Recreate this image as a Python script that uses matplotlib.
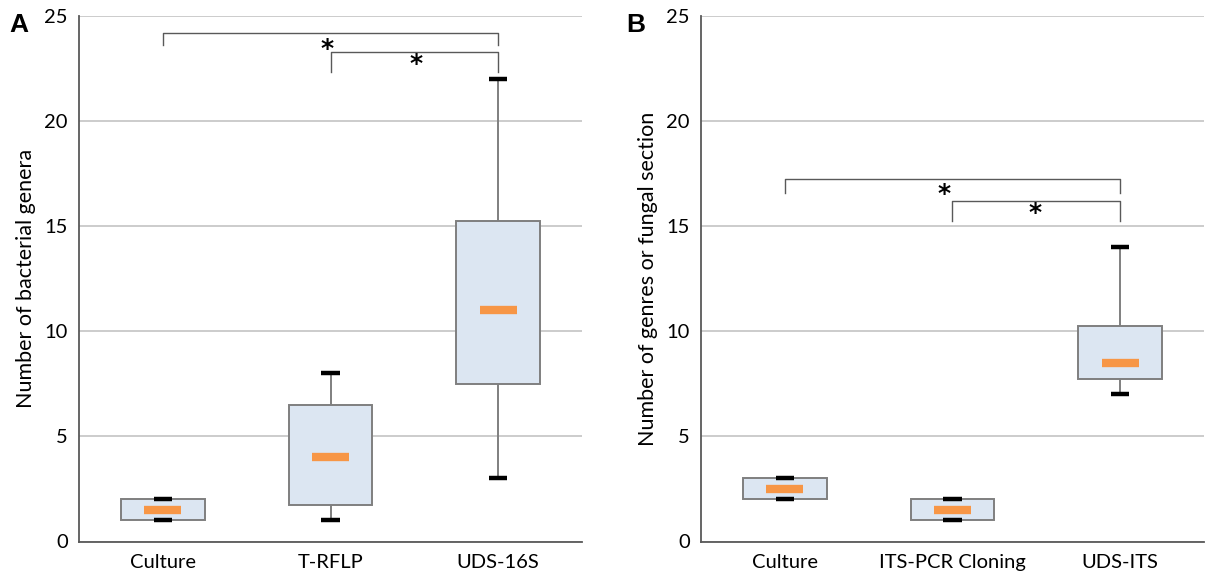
import numpy as np
import matplotlib.pyplot as plt

# =========================
# Data
# =========================
cats_a = ['Culture', 'T-RFLP', 'UDS-16S']
low_a = [1, 1, 3]
q1_a = [1, 1.75, 7.5]
med_a = [1.5, 4, 11]
q3_a = [2, 6.5, 15.25]
high_a = [2, 8, 22]

cats_b = ['Culture', 'ITS-PCR Cloning', 'UDS-ITS']
low_b = [2, 1, 7]
q1_b = [2, 1, 7.75]
med_b = [2.5, 1.5, 8.5]
q3_b = [3, 2, 10.25]
high_b = [3, 2, 14]

# significance brackets: (from, to, top, left drop, right drop), star (x, y)
brackets_a = [(0, 2, 24.2, 23.6, 23.6), (1, 2, 23.27, 22.35, 22.35)]
stars_a = [(0.98, 23.45), (1.51, 22.7)]
brackets_b = [(0, 2, 17.26, 16.6, 16.6), (1, 2, 16.2, 15.25, 15.25)]
stars_b = [(0.95, 16.55), (1.49, 15.65)]

plt.rcParams['font.family'] = ['Lato', 'DejaVu Sans']

BOX_FILL = '#dce6f2'
BOX_EDGE = '#7f7f7f'
MED_COL = '#f79646'


def draw_panel(ax, cats, low, q1, med, q3, high, brackets, stars, ylabel):
    x = np.arange(len(cats))
    q1 = np.array(q1)
    q3 = np.array(q3)
    ax.bar(x, q3 - q1, bottom=q1, width=0.5, color=BOX_FILL,
           edgecolor=BOX_EDGE, linewidth=1.4, zorder=3)
    ax.vlines(x, low, q1, color=BOX_EDGE, linewidth=1.4, zorder=2)
    ax.vlines(x, q3, high, color=BOX_EDGE, linewidth=1.4, zorder=2)
    ax.hlines(low, x - 0.055, x + 0.055, color='black', linewidth=3.2, zorder=5)
    ax.hlines(high, x - 0.055, x + 0.055, color='black', linewidth=3.2, zorder=5)
    ax.hlines(med, x - 0.11, x + 0.11, color=MED_COL, linewidth=6, zorder=4)

    for (a, b, top, dl, dr) in brackets:
        ax.plot([a, a, b, b], [dl, top, top, dr], color='#595959',
                linewidth=1.0, zorder=4)
    for (sx, sy) in stars:
        ax.text(sx, sy, '*', ha='center', va='center', fontsize=18,
                family='DejaVu Sans', fontweight='bold', zorder=6)

    ax.set_xlim(-0.5, len(cats) - 0.5)
    ax.set_ylim(0, 25)
    ax.set_yticks([0, 5, 10, 15, 20, 25])
    ax.set_xticks(x)
    ax.set_xticklabels(cats)
    ax.yaxis.grid(True, color='#bfbfbf', linewidth=1.1, zorder=0)
    ax.set_axisbelow(True)
    ax.tick_params(axis='both', length=0, labelsize=14.5)
    ax.tick_params(axis='y', pad=8)
    ax.tick_params(axis='x', pad=9)
    for s in ['top', 'right']:
        ax.spines[s].set_visible(False)
    for s in ['left', 'bottom']:
        ax.spines[s].set_color('#595959')
        ax.spines[s].set_linewidth(1.3)
    ax.set_ylabel(ylabel, fontsize=15.5, labelpad=6)


fig = plt.figure(figsize=(12.06, 5.76), dpi=100)
ax1 = fig.add_axes([79 / 1206, 1 - 541.5 / 576, 503 / 1206, 525.5 / 576])
ax2 = fig.add_axes([701 / 1206, 1 - 541.5 / 576, 503 / 1206, 525.5 / 576])

draw_panel(ax1, cats_a, low_a, q1_a, med_a, q3_a, high_a, brackets_a,
           stars_a, 'Number of bacterial genera')
draw_panel(ax2, cats_b, low_b, q1_b, med_b, q3_b, high_b, brackets_b,
           stars_b, 'Number of genres or fungal section')

fig.text(19 / 1206, 1 - 25 / 576, 'A', fontsize=19, fontweight='bold',
         family='Liberation Sans', ha='center', va='center')
fig.text(636 / 1206, 1 - 25 / 576, 'B', fontsize=19, fontweight='bold',
         family='Liberation Sans', ha='center', va='center')

fig.savefig('out.png', dpi=100)
